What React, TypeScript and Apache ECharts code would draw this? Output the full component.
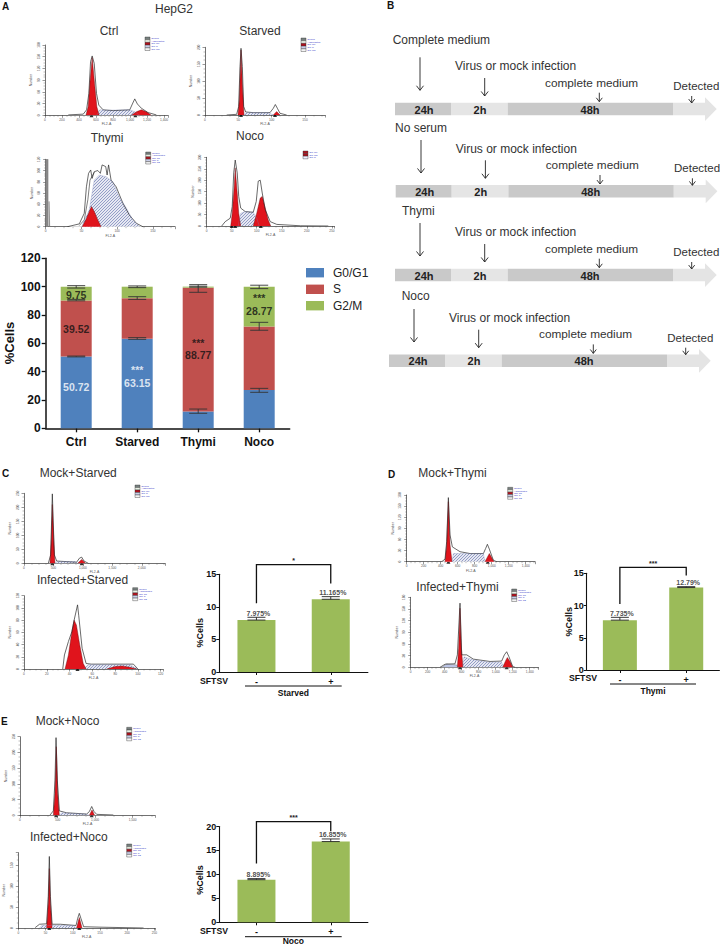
import React, { useEffect, useRef } from "react";
import * as echarts from "echarts";

const FONT = '"Liberation Sans", Arial, sans-serif';

// ---------- panel A stacked bars ----------
const cycleCategories = ["Ctrl", "Starved", "Thymi", "Noco"];
const g0g1Values = [50.72, 63.15, 11.9, 27];
const sValues = [39.52, 28.7, 87.4, 44.9];
const g2mValues = [9.75, 8.1, 0.7, 28.1];
const g0g1Err = [[50.4, 51], [62.8, 64], [10.6, 13.6], [25.4, 28.2]];
const sErr = [[90, 91], [91, 92.9], [96, 101.4], [69.2, 74.8]];
const g2mErr = [[99, 100.7], [99.3, 100.5], [99.6, 100.3], [98.6, 101]];
const cycleWhiteLabels = [[0, 29.4, "50.72"], [1, 41, "***"], [1, 32, "63.15"]];
const cycleBlackLabels = [[0, 70, "39.52"], [0, 94, "9.75"], [2, 60, "***"], [2, 52, "88.77"], [3, 92, "***"], [3, 83, "28.77"]];
const cycleLegend = ["G0/G1", "S", "G2/M"];

// ---------- panels C, D, E bars ----------
const sftsvCategories = ["-", "+"];
const starvedValues = [7.975, 11.165];
const starvedCaps = [8.4, 11.57];
const starvedLabels = ["7.975%", "11.165%"];
const thymiValues = [7.735, 12.79];
const thymiCaps = [8.17, 12.93];
const thymiLabels = ["7.735%", "12.79%"];
const nocoValues = [8.895, 16.855];
const nocoCaps = [9.12, 17.4];
const nocoLabels = ["8.895%", "16.855%"];

// ---------- flow histograms: [channel, count] ----------
const ctrlOutline = [[274,1],[450,3],[489,14],[516,56],[536,137],[555,152],[579,133],[606,56],[633,26],[684,14],[802,12],[997,14],[1028,29],[1056,42],[1087,29],[1134,18],[1212,7],[1310,1]];
const ctrlS = [[606,0],[645,14],[723,13],[997,14],[1056,9],[1114,0]];
const ctrlG1 = [[481,0],[508,22],[528,82],[555,148],[583,82],[610,22],[637,0]];
const ctrlG2 = [[1017,0],[1075,9],[1134,14],[1193,9],[1251,0]];
const ctrlMarks = [547, 1063];

const starvedOutline = [[32.5,0],[47.5,2],[50.5,25],[52.5,143],[54,197],[56,143],[58,25],[61,9],[72.5,7],[97.5,7],[102.5,20],[105.5,31],[108.5,20],[112.5,5],[122.5,0]];
const starvedS = [[58,0],[62.5,7],[95,7],[102.5,0]];
const starvedG1 = [[49.5,0],[51.5,44],[54,192],[56,94],[58.5,0]];
const starvedG2 = [[102.5,0],[107.5,10],[112.5,0]];
const starvedMarks = [54, 105];

const thymiDebris = [[0,0],[0,120],[3.3,120],[3.3,0],[4.7,0],[4.7,45],[5.6,45],[5.6,0]];
const thymiOutline = [[30.5,0],[47,5],[54,24],[57,71],[60,95],[63,101],[65,86],[68,98],[73,100],[76.5,95],[79,110],[84,107],[86,92],[88,110],[91.5,83],[98.6,71],[108,42],[117,21],[127,6],[136,0]];
const thymiInner = [[47,2],[54,12],[59,48],[62,83],[68,97]];
const thymiS = [[51,0],[52,5],[61,30],[68,83],[75,92],[84.5,89],[94,80],[103,53],[113,33],[122,12],[131.5,0]];
const thymiG1 = [[51,0],[56,12],[61,27],[64,36],[68,27],[73,12],[77.5,0]];
const thymiG2: number[][] = [];

const nocoOutline = [[30,0],[37,19],[47,34],[51,85],[54,232],[57,288],[61,232],[64,129],[68,78],[77,63],[93,60],[99,107],[103,196],[107,200],[111,144],[117,71],[127,19],[140,7],[187,1],[243,0]];
const nocoS = [[63,0],[68,56],[77,63],[93,60],[100,34],[105,0]];
const nocoG1 = [[48,0],[51,56],[55,173],[57,254],[61,144],[64,56],[68,0]];
const nocoG2 = [[93,0],[100,56],[107,122],[111,129],[117,78],[123,26],[128,0]];
const nocoMarks = [50, 57, 108];

const mockStarvedOutline = [[413,0],[453,30],[481,248],[515,30],[555,8],[894,4],[940,18],[979,22],[1019,8],[1092,0]];
const mockStarvedS = [[526,0],[566,6],[866,6],[911,0]];
const mockStarvedG1 = [[441,0],[464,90],[481,210],[504,90],[526,0]];
const mockStarvedG2 = [[911,0],[979,14],[1047,0]];
const mockStarvedMarks = [481, 979];

const infStarvedOutline = [[34,0],[35.5,23],[39,45],[42,61],[44,80],[47,105],[48,88],[51,34],[54.5,9],[59,8],[96,8],[100,0]];
const infStarvedS = [[52,0],[56.5,7],[93,7],[100,0]];
const infStarvedG1 = [[36,0],[39,23],[42,61],[44,80],[46,72],[49,39],[52,9],[54.5,0]];
const infStarvedG2 = [[72.6,0],[80,4],[86,5],[93,3],[99,0]];
const infStarvedMarks = [47];

const mockThymiOutline = [[412,0],[451,7],[470,54],[490,173],[510,72],[537,40],[627,27],[745,22],[902,22],[929,36],[949,47],[972,34],[1019,4],[1058,0]];
const mockThymiS = [[533,0],[549,22],[902,22],[921,0]];
const mockThymiG1 = [[451,0],[470,45],[490,162],[510,45],[533,0]];
const mockThymiG2 = [[921,0],[972,22],[1027,0]];
const mockThymiMarks = [490, 953];

const infThymiOutline = [[345,0],[404,8],[521,9],[549,32],[580,165],[600,32],[659,32],[737,21],[933,15],[1070,16],[1102,32],[1129,40],[1156,27],[1200,2],[1227,0]];
const infThymiDebris = [[365,0],[423,9],[541,6],[561,0]];
const infThymiS = [[612,0],[627,27],[737,19],[933,13],[1070,13],[1090,0]];
const infThymiG1 = [[549,0],[564,49],[580,152],[596,49],[615,0]];
const infThymiG2 = [[1082,0],[1121,19],[1137,25],[1168,15],[1200,0]];
const infThymiMarks = [580, 1129];

const mockNocoOutline = [[400,1],[444,14],[466,112],[480,247],[497,112],[524,14],[622,8],[888,4],[924,12],[955,28],[986,12],[1021,3],[1243,1]];
const mockNocoS = [[524,0],[555,8],[866,4],[924,0]];
const mockNocoG1 = [[444,0],[466,70],[484,218],[502,70],[524,0]];
const mockNocoG2 = [[924,0],[959,17],[994,0]];
const mockNocoMarks = [480, 955];

const infNocoOutline = [[31,1],[39,9],[52,10],[55,75],[57,171],[59,75],[62,9],[77,9],[106,6],[109,23],[112,35],[115,23],[120,3],[150,2],[230,0]];
const infNocoS = [[39,0],[43,6],[101,6],[107,0]];
const infNocoG1 = [[52,0],[55,59],[57,142],[59,59],[62,0]];
const infNocoG2 = [[107,0],[112,25],[117,0]];
const infNocoMarks = [57, 112];

const legend5 = ["Debris", "Aggregates", "Dip G1", "Dip S", "Dip G2"];
const legend3 = ["Dip G1", "Dip G2", "Dip S"];

type Hist = { outline: number[][]; inner?: number[][]; s: number[][]; g1: number[][]; g2: number[][]; marks: number[]; debris?: number[][];
  l: number; r: number; t: number; b: number; xMax: number; xInt: number; yMax: number; yInt: number; lx: number; ly: number; rows: string[]; rowH: number };

const hists: Hist[] = [
  { outline: ctrlOutline, s: ctrlS, g1: ctrlG1, g2: ctrlG2, marks: ctrlMarks, l: 45, r: 168, t: 45, b: 115.3, xMax: 1447, xInt: 200, yMax: 180, yInt: 30, lx: 145, ly: 37, rows: legend5, rowH: 2.7 },
  { outline: starvedOutline, s: starvedS, g1: starvedG1, g2: starvedG2, marks: starvedMarks, l: 205, r: 325, t: 47.3, b: 115, xMax: 180, xInt: 50, yMax: 200, yInt: 50, lx: 301, ly: 38, rows: legend5, rowH: 2.7 },
  { outline: thymiOutline, inner: thymiInner, debris: thymiDebris, s: thymiS, g1: thymiG1, g2: thymiG2, marks: [], l: 45.7, r: 175, t: 159.3, b: 226.7, xMax: 181, xInt: 50, yMax: 120, yInt: 20, lx: 145.7, ly: 152, rows: legend5, rowH: 2.4 },
  { outline: nocoOutline, s: nocoS, g1: nocoG1, g2: nocoG2, marks: nocoMarks, l: 206.7, r: 334.3, t: 157.3, b: 226, xMax: 255, xInt: 50, yMax: 300, yInt: 50, lx: 303, ly: 151, rows: legend3, rowH: 2.6 },
  { outline: mockStarvedOutline, s: mockStarvedS, g1: mockStarvedG1, g2: mockStarvedG2, marks: mockStarvedMarks, l: 24, r: 165, t: 493.3, b: 563.3, xMax: 2394, xInt: 500, yMax: 250, yInt: 50, lx: 135, ly: 485, rows: legend5, rowH: 2.5 },
  { outline: infStarvedOutline, s: infStarvedS, g1: infStarvedG1, g2: infStarvedG2, marks: infStarvedMarks, l: 24, r: 163, t: 595.7, b: 669, xMax: 122, xInt: 20, yMax: 120, yInt: 20, lx: 132.7, ly: 587.7, rows: legend5, rowH: 2.6 },
  { outline: mockThymiOutline, s: mockThymiS, g1: mockThymiG1, g2: mockThymiG2, marks: mockThymiMarks, l: 406.7, r: 535, t: 495, b: 561.7, xMax: 1509, xInt: 200, yMax: 180, yInt: 30, lx: 507.7, ly: 487.3, rows: legend5, rowH: 2.4 },
  { outline: infThymiOutline, debris: infThymiDebris, s: infThymiS, g1: infThymiG1, g2: infThymiG2, marks: infThymiMarks, l: 410.7, r: 538.3, t: 597.3, b: 667.3, xMax: 1501, xInt: 200, yMax: 180, yInt: 30, lx: 511.7, ly: 589, rows: legend5, rowH: 2.5 },
  { outline: mockNocoOutline, s: mockNocoS, g1: mockNocoG1, g2: mockNocoG2, marks: mockNocoMarks, l: 20, r: 155, t: 736.7, b: 815.3, xMax: 1798, xInt: 500, yMax: 250, yInt: 50, lx: 126.7, ly: 727.3, rows: legend5, rowH: 2.7 },
  { outline: infNocoOutline, s: infNocoS, g1: infNocoG1, g2: infNocoG2, marks: infNocoMarks, l: 18.3, r: 155, t: 852.7, b: 928, xMax: 251, xInt: 50, yMax: 180, yInt: 50, lx: 126.7, ly: 844, rows: legend5, rowH: 2.6 },
];

const titles: [string, number, number, string?][] = [
  ["HepG2", 174, 9, "center"], ["Ctrl", 109, 31, "center"], ["Starved", 260, 31, "center"], ["Thymi", 107, 138, "center"], ["Noco", 250, 136, "center"],
  ["Mock+Starved", 39.7, 472.7], ["Infected+Starved", 37, 580], ["Mock+Thymi", 418.3, 473.3], ["Infected+Thymi", 416.3, 587],
  ["Mock+Noco", 35.7, 721.3], ["Infected+Noco", 30, 836.7],
];
const panelLetters: [string, number, number][] = [["A", 2, 6], ["B", 387, 5], ["C", 2, 473], ["D", 388, 474], ["E", 1, 721]];

// ---------- panel B schedule ----------
const stepLabels = ["24h", "2h", "48h"];
const conditions = ["Complete medium", "No serum", "Thymi", "Noco"];
const virusLabel = "Virus or mock infection";
const mediumLabel = "complete medium";
const detectLabel = "Detected";

export default function App() {
  const ref = useRef<HTMLDivElement>(null);
  useEffect(() => {
    const chart = echarts.init(ref.current!, null, { renderer: "svg" });
    const cv = document.createElement("canvas");
    cv.width = 3; cv.height = 3;
    const c = cv.getContext("2d")!;
    c.fillStyle = "#e6e8f2"; c.fillRect(0, 0, 3, 3);
    c.strokeStyle = "#7d89bb"; c.lineWidth = 0.8;
    c.beginPath(); c.moveTo(0, 3); c.lineTo(3, 0); c.stroke();
    const hatch: any = { image: cv, repeat: "repeat" };

    const grid: any[] = [], xAxis: any[] = [], yAxis: any[] = [], series: any[] = [], graphic: any[] = [];

    const txt = (text: string, x: number, y: number, font: string, fill = "#222", align = "left", rotation = 0) => ({
      type: "text", x, y, rotation, silent: true, z: 20,
      style: { text, font, fill, align, verticalAlign: "middle", textAlign: align, textVerticalAlign: "middle" },
    });
    const pl = (points: number[][], stroke = "#222", lineWidth = 0.9) => ({
      type: "polyline", silent: true, z: 20, shape: { points }, style: { stroke, fill: "none", lineWidth },
    });
    const rect = (x: number, y: number, width: number, height: number, fill: string, stroke?: string) => ({
      type: "rect", silent: true, z: 15, shape: { x, y, width, height }, style: { fill, stroke, lineWidth: 0.4 },
    });

    // histograms
    hists.forEach((h) => {
      const i = grid.length;
      grid.push({ left: h.l, top: h.t, width: h.r - h.l, height: h.b - h.t });
      const axBase = {
        type: "value", min: 0,
        axisLine: { show: true, onZero: false, lineStyle: { color: "#333", width: 0.7 } },
        axisTick: { show: true, length: 2.5, lineStyle: { color: "#333", width: 0.5 } },
        minorTick: { show: true, splitNumber: 4, length: 1.5, lineStyle: { color: "#555", width: 0.4 } },
        splitLine: { show: false },
        nameLocation: "middle",
      };
      xAxis.push({ ...axBase, gridIndex: i, max: h.xMax, interval: h.xInt, name: "FL2-A", nameGap: 6.5,
        nameTextStyle: { fontSize: 3.5, color: "#555", fontFamily: FONT },
        axisLabel: { fontSize: 3.2, color: "#555", margin: 3, fontFamily: FONT, showMaxLabel: h.xMax % h.xInt === 0 } });
      yAxis.push({ ...axBase, gridIndex: i, max: h.yMax, interval: h.yInt, name: "Number", nameGap: 12, nameRotate: 90,
        nameTextStyle: { fontSize: 3.5, color: "#555", fontFamily: FONT },
        axisLabel: { fontSize: 3.2, color: "#555", margin: 5, rotate: 90, fontFamily: FONT, showMaxLabel: h.yMax % h.yInt === 0 } });
      const ln = (data: number[][], color: string, width: number, fill: any) => ({
        type: "line", xAxisIndex: i, yAxisIndex: i, data, symbol: "none", silent: true, smooth: false,
        lineStyle: { color, width }, areaStyle: fill ? { color: fill, opacity: 1 } : undefined,
      });
      series.push(ln(h.outline, "#2a2a2a", 0.7, "#ffffff"));
      if (h.inner) series.push(ln(h.inner, "#2a2a2a", 0.6, null));
      if (h.debris) series.push(ln(h.debris, "#777777", 0.5, h.debris === thymiDebris ? "#8a8a8a" : "#bcc5e6"));
      series.push(ln(h.s, "#7d89bb", 0.3, hatch));
      series.push(ln(h.g1, "#5a0a10", 0.4, "#e0141c"));
      if (h.g2.length) series.push(ln(h.g2, "#5a0a10", 0.4, "#e0141c"));
      if (h.marks.length) series.push({ type: "scatter", xAxisIndex: i, yAxisIndex: i, silent: true, symbol: "triangle", symbolSize: 4,
        itemStyle: { color: "#000" }, data: h.marks.map((m) => [m, 0]) });
      h.rows.forEach((r, k) => {
        const y = h.ly + k * h.rowH;
        const fill = h.rows === legend3 ? ["#a8141f", "#a8141f", "#eef"][k] : ["#77807f", "#e8f0e4", "#b0101c", "#c8cde8", "#f4f4f4"][k];
        graphic.push(rect(h.lx, y, 5, h.rowH, fill, "#333"));
        graphic.push(txt(r, h.lx + 6.5, y + h.rowH / 2, `2.5px ${FONT}`, "#3a3ac8"));
      });
    });

    // bar helpers
    const boldAxis = (gi: number, fs: number, extra: any) => ({
      gridIndex: gi,
      axisLine: { show: true, onZero: false, lineStyle: { color: "#111", width: fs > 10 ? 1.5 : 1.1 } },
      axisTick: { show: true, length: fs > 10 ? 4 : 3, alignWithLabel: true, lineStyle: { color: "#111", width: fs > 10 ? 1.3 : 1 } },
      splitLine: { show: false },
      axisLabel: { fontSize: fs, fontWeight: "bold", color: "#111", fontFamily: FONT, ...extra },
    });
    const errSeries = (gi: number, rows: (number | string)[][], capHalf: number, color: string) => ({
      type: "custom", xAxisIndex: gi, yAxisIndex: gi, silent: true, z: 5,
      data: rows, encode: { x: 0, y: [1, 2] },
      renderItem: (_p: any, api: any) => {
        const lo = api.coord([api.value(0), api.value(1)]);
        const hi = api.coord([api.value(0), api.value(2)]);
        const st = { stroke: color, lineWidth: 0.9, fill: "none" };
        return { type: "group", children: [
          { type: "line", shape: { x1: lo[0], y1: lo[1], x2: hi[0], y2: hi[1] }, style: st },
          { type: "line", shape: { x1: lo[0] - capHalf, y1: lo[1], x2: lo[0] + capHalf, y2: lo[1] }, style: st },
          { type: "line", shape: { x1: hi[0] - capHalf, y1: hi[1], x2: hi[0] + capHalf, y2: hi[1] }, style: st },
        ] };
      },
    });
    const textSeries = (gi: number, rows: any[], color: string, size: number, position = "inside", offset = [0, 0]) => ({
      type: "scatter", xAxisIndex: gi, yAxisIndex: gi, silent: true, symbolSize: 1, z: 6,
      itemStyle: { color: "rgba(0,0,0,0)" },
      data: rows.map((r) => ({ value: [r[0], r[1]], label: { formatter: String(r[2]) } })),
      label: { show: true, position, distance: 0, offset, color, fontSize: size, fontWeight: "bold", fontFamily: FONT },
    });

    // panel A bars
    const ga = grid.length;
    grid.push({ left: 45.7, top: 258.3, width: 244, height: 170 });
    xAxis.push({ type: "category", data: cycleCategories, ...boldAxis(ga, 12, { margin: 8, interval: 0 }) });
    yAxis.push({ type: "value", min: 0, max: 120, interval: 20, ...boldAxis(ga, 12, { margin: 5 }) });
    const stackColors = ["#4f81bd", "#c0504d", "#9bbb59"];
    [g0g1Values, sValues, g2mValues].forEach((d, k) => {
      series.push({ type: "bar", xAxisIndex: ga, yAxisIndex: ga, stack: "cycle", barWidth: 31, data: d, silent: true, itemStyle: { color: stackColors[k] } });
    });
    [g0g1Err, sErr, g2mErr].forEach((e) => {
      series.push(errSeries(ga, e.map((r, i) => [i, r[0], r[1]]), 9, "#333"));
    });
    series.push(textSeries(ga, cycleWhiteLabels, "#ffffff", 10.5));
    series.push(textSeries(ga, cycleBlackLabels, "#111111", 10.5));
    graphic.push(txt("%Cells", 9, 343, `bold 13px ${FONT}`, "#111", "center", Math.PI / 2));
    cycleLegend.forEach((n, k) => {
      const y = [272.7, 289.3, 305.7][k];
      graphic.push(rect(306, y - 4.7, 18, 9.4, stackColors[k]));
      graphic.push(txt(n, 333, y, `12px ${FONT}`, "#222"));
    });

    // panels C D E
    const sftsv = [
      { vals: starvedValues, caps: starvedCaps, labels: starvedLabels, l: 219.3, t: 574.3, w: 148.6, h: 97.7, max: 15, iv: 5, bw: 38, yl: 10.55, yt: 16.5, yr: 13.6, star: "*", name: "Starved", yc: 632.7, ln: [245, 341.7, 686], nx: 293.3, ny: 692.7, sx: 200, sy: 681 },
      { vals: thymiValues, caps: thymiCaps, labels: thymiLabels, l: 586.7, t: 573.3, w: 132.7, h: 96.7, max: 15, iv: 5, bw: 34, yl: 10.24, yt: 15.93, yr: 14.64, star: "***", name: "Thymi", yc: 621.7, ln: [610, 696, 684], nx: 653, ny: 691, sx: 569, sy: 678.3 },
      { vals: nocoValues, caps: nocoCaps, labels: nocoLabels, l: 219.3, t: 826.5, w: 148.6, h: 95.8, max: 20, iv: 5, bw: 38, yl: 12.3, yt: 21, yr: 19, star: "***", name: "Noco", yc: 880, ln: [245, 341.7, 936.7], nx: 293.3, ny: 941.4, sx: 200, sy: 931.3 },
    ];
    sftsv.forEach((p) => {
      const gi = grid.length;
      grid.push({ left: p.l, top: p.t, width: p.w, height: p.h });
      xAxis.push({ type: "category", data: sftsvCategories, ...boldAxis(gi, 9, { margin: 5, interval: 0 }) });
      yAxis.push({ type: "value", min: 0, max: p.max, interval: p.iv, ...boldAxis(gi, 9, { margin: 3 }) });
      series.push({ type: "bar", xAxisIndex: gi, yAxisIndex: gi, barWidth: p.bw, data: p.vals, silent: true, itemStyle: { color: "#9bbb59" } });
      series.push(errSeries(gi, p.vals.map((v, i) => [i, v, p.caps[i]]), 9, "#222"));
      series.push(textSeries(gi, p.caps.map((v, i) => [i, v, p.labels[i]]), "#222", 7, "top", [2, 0]));
      series.push({
        type: "custom", xAxisIndex: gi, yAxisIndex: gi, silent: true, z: 6,
        data: [[0, 1, p.yl, p.yt, p.yr]], encode: { x: [0, 1], y: [2, 3, 4] },
        renderItem: (_q: any, api: any) => {
          const a = api.coord([api.value(0), api.value(2)]);
          const b = api.coord([api.value(0), api.value(3)]);
          const d = api.coord([api.value(1), api.value(3)]);
          const e = api.coord([api.value(1), api.value(4)]);
          return { type: "group", children: [
            { type: "polyline", shape: { points: [a, b, d, e] }, style: { stroke: "#111", lineWidth: 1.3, fill: "none" } },
            { type: "text", x: (a[0] + d[0]) / 2, y: b[1] - 4, style: { text: p.star, font: `bold 7px ${FONT}`, fill: "#222", align: "center", verticalAlign: "middle" } },
          ] };
        },
      });
      graphic.push(txt("%Cells", p.sx + 0.3, p.yc, `bold 9px ${FONT}`, "#111", "center", Math.PI / 2));
      graphic.push(txt("SFTSV", p.sx, p.sy, `bold 8.7px ${FONT}`, "#111"));
      graphic.push(pl([[p.ln[0], p.ln[2]], [p.ln[1], p.ln[2]]], "#111", 1));
      graphic.push(txt(p.name, p.nx, p.ny, `bold 8.5px ${FONT}`, "#111", "center"));
    });

    // panel B
    const rowOff = [[0, 0], [0.7, 82.3], [0, 166], [-6, 251.7]];
    const condPos = [[392.7, 40], [395, 128], [402, 210.7], [401.7, 296]];
    const longArrow = [[420, 57.3], [421, 140], [420, 223], [414, 309]];
    const arrow = (x: number, y1: number, y2: number, hw: number) => {
      graphic.push(pl([[x, y1], [x, y2]], "#222", 0.9));
      graphic.push(pl([[x - hw, y2 - hw * 1.3], [x, y2], [x + hw, y2 - hw * 1.3]], "#222", 0.9));
    };
    rowOff.forEach(([dx, dy], k) => {
      graphic.push({ type: "polygon", silent: true, z: 10, shape: { points: [[673 + dx, 102.7 + dy], [705 + dx, 102.7 + dy], [705 + dx, 97.3 + dy], [716.7 + dx, 109 + dy], [705 + dx, 121 + dy], [705 + dx, 115.3 + dy], [673 + dx, 115.3 + dy]] }, style: { fill: "#e4e4e4" } });
      graphic.push(rect(395 + dx, 102.7 + dy, 56, 12.6, "#c9c9c9"));
      graphic.push(rect(451 + dx, 102.7 + dy, 56.7, 12.6, "#e5e5e5"));
      graphic.push(rect(507.7 + dx, 102.7 + dy, 165.3, 12.6, "#c9c9c9"));
      [424, 480, 590].forEach((x, j) => graphic.push(txt(stepLabels[j], x + dx, 109.5 + dy, `bold 11px ${FONT}`, "#222", "center")));
      graphic.push(txt(conditions[k], condPos[k][0], condPos[k][1], `12px ${FONT}`, "#333"));
      graphic.push(txt(virusLabel, 455 + dx, 66.3 + dy, `12px ${FONT}`, "#333"));
      graphic.push(txt(mediumLabel, 545 + dx, 82.7 + dy, `11.8px ${FONT}`, "#333"));
      graphic.push(txt(detectLabel, 673.3 + dx, 86 + dy, `11.5px ${FONT}`, "#333"));
      arrow(longArrow[k][0], longArrow[k][1], longArrow[k][1] + 33, 3.5);
      arrow(484.7 + dx, 78 + dy, 96 + dy, 3.5);
      arrow(599.3 + dx, 92.7 + dy, 101.7 + dy, 3);
      arrow(691.7 + dx, 96 + dy, 103 + dy, 3);
    });

    titles.forEach(([t, x, y, a]) => graphic.push(txt(t, x, y, `12px ${FONT}`, "#333", a || "left")));
    panelLetters.forEach(([t, x, y]) => graphic.push(txt(t, x, y, `bold 10px ${FONT}`, "#111")));

    chart.setOption({
      animation: false, backgroundColor: "#ffffff", tooltip: { show: false }, legend: { show: false },
      grid, xAxis, yAxis, series, graphic,
    });
    return () => chart.dispose();
  }, []);
  return <div ref={ref} style={{ position: "absolute", left: 0, top: 0, width: 720, height: 946 }} />;
}
